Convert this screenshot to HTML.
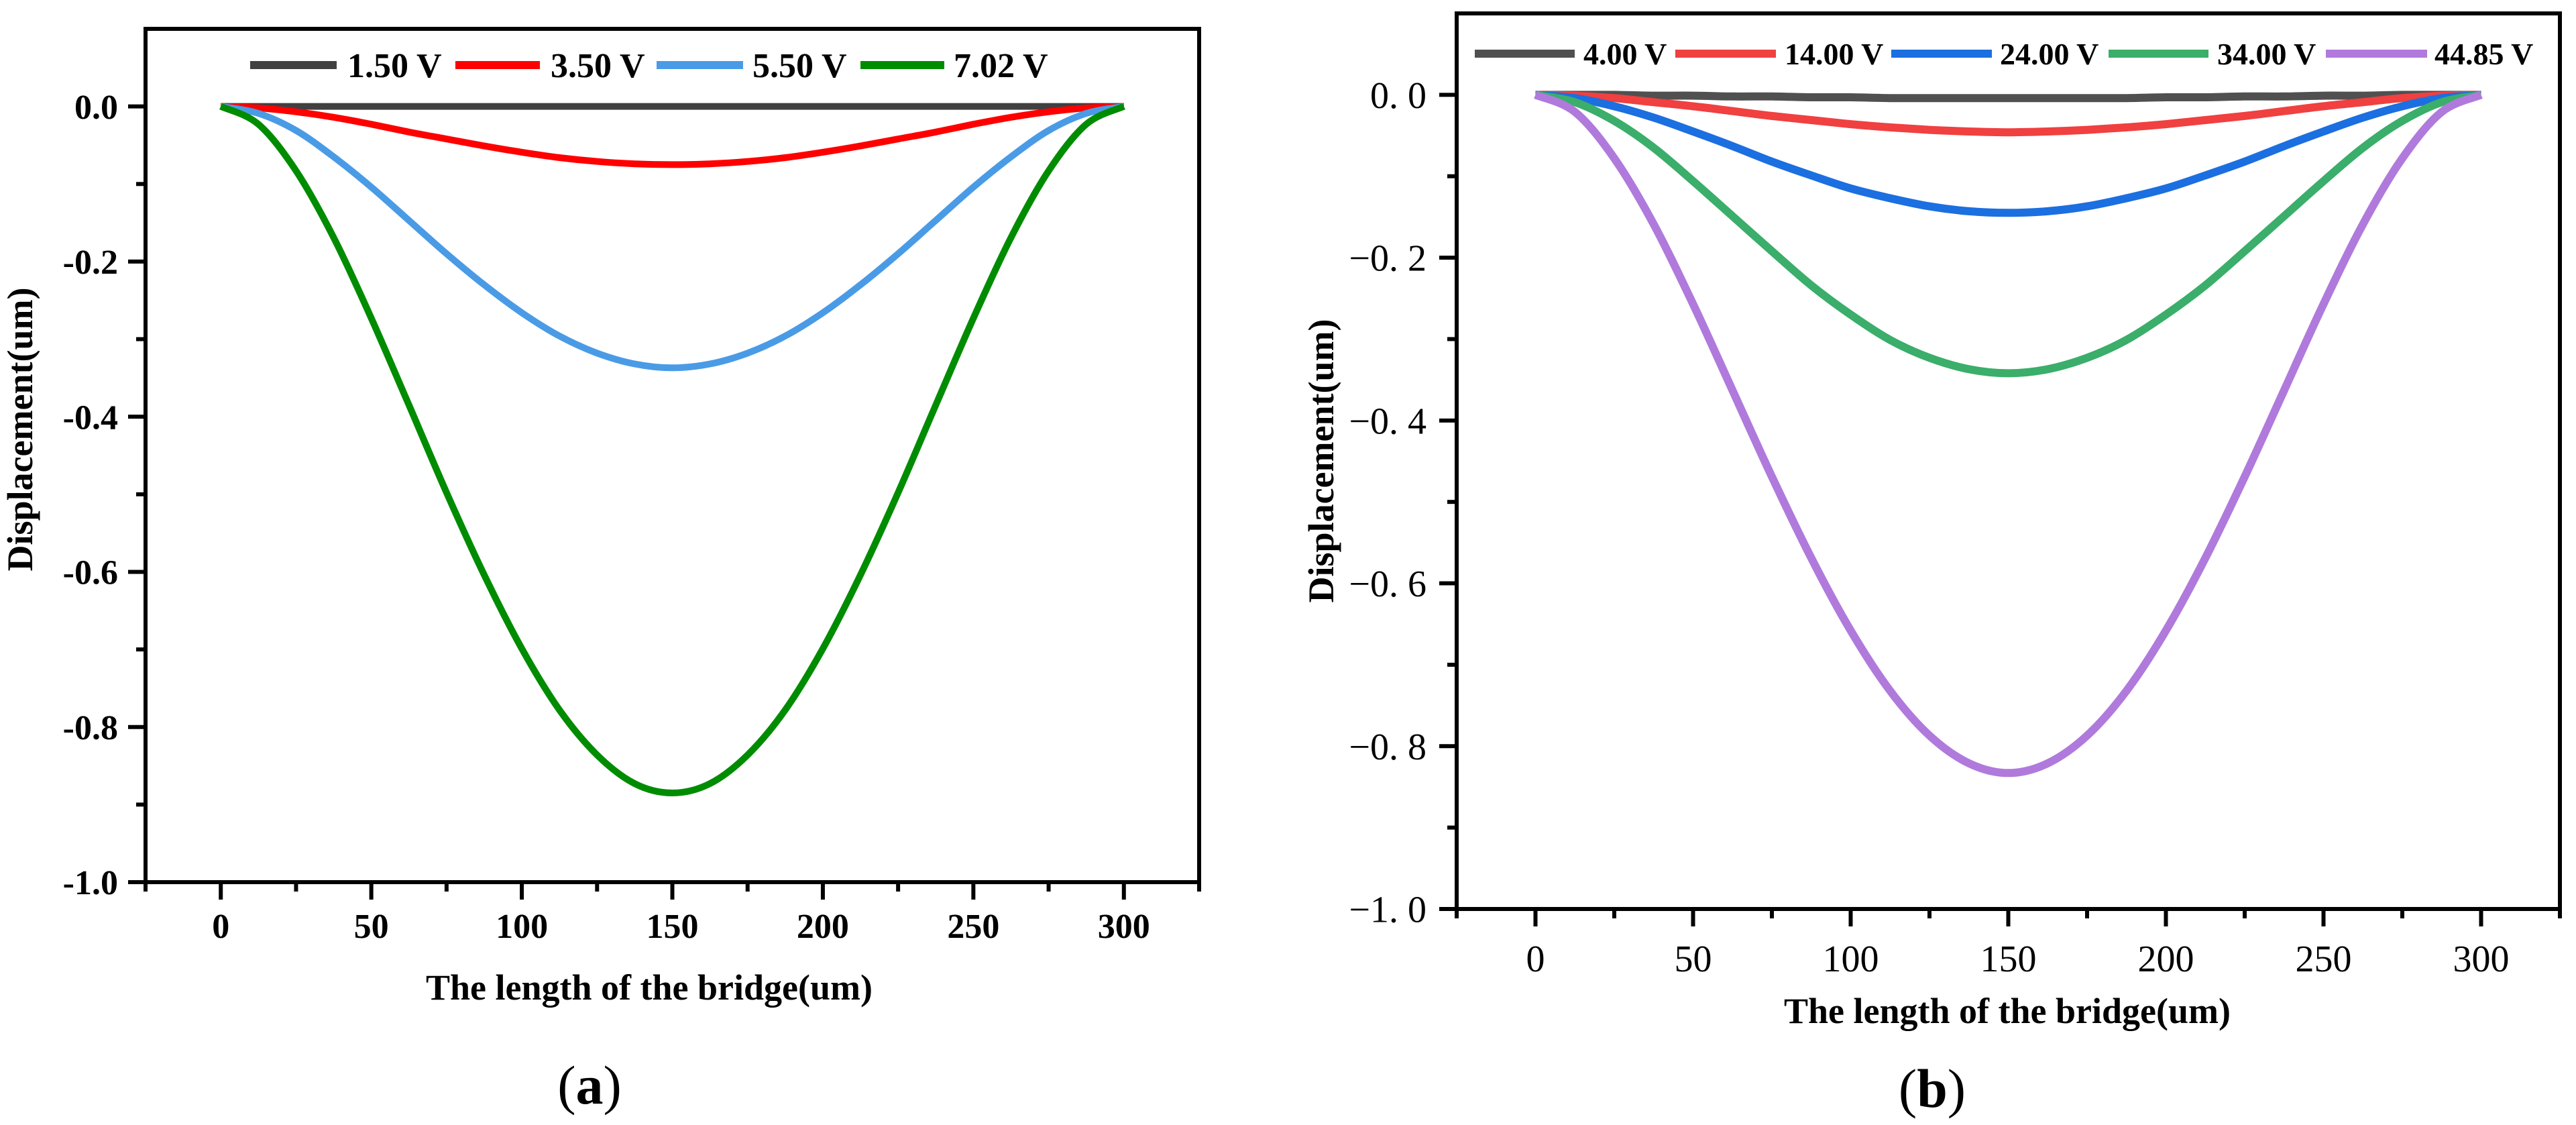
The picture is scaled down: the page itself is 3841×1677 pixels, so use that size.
<!DOCTYPE html>
<html><head><meta charset="utf-8">
<style>
html,body{margin:0;padding:0;background:#fff;}
svg{display:block;}
</style></head>
<body>
<svg id="fig" width="3841" height="1677" viewBox="0 0 3841 1677" xmlns="http://www.w3.org/2000/svg">
<g id="chartA"></g>
<g id="chartB"></g>
</svg>
<script>
// ---- shared data ----
const xPositions = [0,12.5,25,37.5,50,62.5,75,87.5,100,112.5,125,137.5,150,162.5,175,187.5,200,212.5,225,237.5,250,262.5,275,287.5,300];
const xTicks = [0,50,100,150,200,250,300];
const yTicks = [0,-0.2,-0.4,-0.6,-0.8,-1.0];

// chart (a)
const aLabels = ["1.50 V","3.50 V","5.50 V","7.02 V"];
const aColors = ["#404040","#ff0000","#4a9be6","#008c00"];
const a150 = [0,0,0,0,0,0,0,0,0,0,0,0,0,0,0,0,0,0,0,0,0,0,0,0,0];
const a350 = [0,-0.002,-0.007,-0.014,-0.023,-0.033,-0.042,-0.051,-0.059,-0.066,-0.071,-0.074,-0.075,-0.074,-0.071,-0.066,-0.059,-0.051,-0.042,-0.033,-0.023,-0.014,-0.007,-0.002,0];
const a550 = [0,-0.009,-0.031,-0.065,-0.104,-0.147,-0.190,-0.230,-0.266,-0.296,-0.318,-0.332,-0.337,-0.332,-0.318,-0.296,-0.266,-0.230,-0.190,-0.147,-0.104,-0.065,-0.031,-0.009,0];
const a702 = [0,-0.023,-0.083,-0.169,-0.273,-0.385,-0.498,-0.604,-0.699,-0.778,-0.836,-0.873,-0.885,-0.873,-0.836,-0.778,-0.699,-0.604,-0.498,-0.385,-0.273,-0.169,-0.083,-0.023,0];

// chart (b)
const bLabels = ["4.00 V","14.00 V","24.00 V","34.00 V","44.85 V"];
const bColors = ["#505050","#f04040","#1b6fe0","#3aae6a","#b07adc"];
const b400 = [0,0,0,-0.001,-0.001,-0.002,-0.002,-0.003,-0.003,-0.004,-0.004,-0.004,-0.004,-0.004,-0.004,-0.004,-0.003,-0.003,-0.002,-0.002,-0.001,-0.001,0,0,0];
const b1400 = [0,-0.001,-0.004,-0.009,-0.014,-0.020,-0.026,-0.031,-0.036,-0.040,-0.043,-0.045,-0.046,-0.045,-0.043,-0.040,-0.036,-0.031,-0.026,-0.020,-0.014,-0.009,-0.004,-0.001,0];
const b2400 = [0,-0.004,-0.014,-0.028,-0.045,-0.063,-0.082,-0.099,-0.115,-0.127,-0.137,-0.143,-0.145,-0.143,-0.137,-0.127,-0.115,-0.099,-0.082,-0.063,-0.045,-0.028,-0.014,-0.004,0];
const b3400 = [0,-0.009,-0.032,-0.065,-0.106,-0.149,-0.192,-0.234,-0.270,-0.301,-0.323,-0.337,-0.342,-0.337,-0.323,-0.301,-0.270,-0.234,-0.192,-0.149,-0.106,-0.065,-0.032,-0.009,0];
const b4485 = [0,-0.021,-0.078,-0.159,-0.257,-0.363,-0.469,-0.569,-0.658,-0.732,-0.787,-0.821,-0.833,-0.821,-0.787,-0.732,-0.658,-0.569,-0.469,-0.363,-0.257,-0.159,-0.078,-0.021,0];

const NS = "http://www.w3.org/2000/svg";
function mk(parent, tag, attrs, text){
  const e = document.createElementNS(NS, tag);
  for (const k in attrs) e.setAttribute(k, attrs[k]);
  if (text !== undefined) e.textContent = text;
  parent.appendChild(e);
  return e;
}
function smoothPath(pts){
  let d = "M" + pts[0][0].toFixed(1) + "," + pts[0][1].toFixed(1);
  for (let i=0;i<pts.length-1;i++){
    const p0 = pts[Math.max(0,i-1)], p1 = pts[i], p2 = pts[i+1], p3 = pts[Math.min(pts.length-1,i+2)];
    const c1x = p1[0]+(p2[0]-p0[0])/6, c1y = p1[1]+(p2[1]-p0[1])/6;
    const c2x = p2[0]-(p3[0]-p1[0])/6, c2y = p2[1]-(p3[1]-p1[1])/6;
    d += " C"+c1x.toFixed(1)+","+c1y.toFixed(1)+" "+c2x.toFixed(1)+","+c2y.toFixed(1)+" "+p2[0].toFixed(1)+","+p2[1].toFixed(1);
  }
  return d;
}

function drawChart(g, cfg){
  const X = v => cfg.x0 + (v - (-25)) / 350 * (cfg.x1 - cfg.x0);
  const Y = v => cfg.y0 + (0.1 - v) / 1.1 * (cfg.y1 - cfg.y0);
  const tickFont = cfg.tickFont;

  cfg.series.forEach((s, i) => {
    const pts = xPositions.map((xv, j) => [X(xv), Y(s[j])]);
    const p = mk(g, "path", {d: smoothPath(pts), fill:"none", stroke: cfg.colors[i], "stroke-width": cfg.lw, "stroke-linecap":"butt", "stroke-linejoin":"round"});
    
    
  });

  const fr = mk(g, "rect", {x:cfg.x0, y:cfg.y0, width:cfg.x1-cfg.x0, height:cfg.y1-cfg.y0, fill:"none", stroke:"#000", "stroke-width":6});
  
  

  for (let k=0;k<=10;k++){
    const v = -k/10;
    const major = k%2===0;
    const t = mk(g, "line", {x1:cfg.x0, x2:cfg.x0-(major?26:14), y1:Y(v), y2:Y(v), stroke:"#000", "stroke-width":6});
    
    
  }
  yTicks.forEach(v => {
    const lab = cfg.yFmt(v);
    const t = mk(g, "text", {x:cfg.yLabelX, y:Y(v)+cfg.tickFontSize*0.35, "text-anchor":"end", "font-family":tickFont, "font-size":cfg.tickFontSize, "font-weight":cfg.tickWeight}, lab);
    
    
  });
  for (let xv=-25; xv<=325; xv+=25){
    const major = xv%50===0;
    const t = mk(g, "line", {x1:X(xv), x2:X(xv), y1:cfg.y1, y2:cfg.y1+(major?26:14), stroke:"#000", "stroke-width":6});
    
    
  }
  xTicks.forEach(v => {
    const t = mk(g, "text", {x:X(v), y:cfg.xLabelY, "text-anchor":"middle", "font-family":tickFont, "font-size":cfg.tickFontSize, "font-weight":cfg.tickWeight}, String(v));
    
    
  });

  const xt = mk(g, "text", {x:cfg.xTitleX, y:cfg.xTitleY, "text-anchor":"middle", "font-family":"Liberation Serif, serif", "font-size":cfg.titleSize, "font-weight":"bold"}, "The length of the bridge(um)");
  
  
  const yt = mk(g, "text", {x:0, y:0, transform:"translate("+cfg.yTitleX+","+cfg.yTitleY+") rotate(-90)", "text-anchor":"middle", "font-family":"Liberation Serif, serif", "font-size":cfg.titleSize, "font-weight":"bold"}, "Displacement(um)");
  
  

  cfg.labels.forEach((lab, i) => {
    const lg = mk(g, "g", {});
    
    
    const ln = cfg.legend[i];
    mk(lg, "line", {x1:ln[0], x2:ln[1], y1:cfg.legendY, y2:cfg.legendY, stroke:cfg.colors[i], "stroke-width":12});
    mk(lg, "text", {x:ln[2], y:cfg.legendY+cfg.legendFont*0.35, "font-family":"Liberation Serif, serif", "font-size":cfg.legendFont, "font-weight":"bold"}, lab);
  });

  const pl = mk(g, "text", {x:cfg.panelX, y:cfg.panelY, "text-anchor":"middle", "font-family":"Liberation Serif, serif", "font-size":82}, "");
  
  
  mk(pl, "tspan", {}, "(");
  mk(pl, "tspan", {"font-weight":"bold"}, cfg.panel);
  mk(pl, "tspan", {}, ")");
}

drawChart(document.getElementById("chartA"), {
  x0:217, x1:1788, y0:43, y1:1315,
  series:[a150,a350,a550,a702], colors:aColors, labels:aLabels, lw:10,
  tickFont:"Liberation Serif, serif", tickFontSize:52, tickWeight:"bold",
  yFmt: v => (v===0?"0.0":v.toFixed(1)), yLabelX:176, xLabelY:1398,
  xTitleX:968, xTitleY:1490, yTitleX:48, yTitleY:640, titleSize:54,
  legendY:97, legendFont:52,
  legend:[[373,502,518],[679,805,821],[979,1108,1122],[1283,1408,1422]],
  panel:"a", panelX:879, panelY:1645
});
drawChart(document.getElementById("chartB"), {
  x0:2172, x1:3817, y0:20, y1:1355,
  series:[b400,b1400,b2400,b3400,b4485], colors:bColors, labels:bLabels, lw:12,
  tickFont:"Liberation Serif, serif", tickFontSize:56, tickWeight:"normal",
  yFmt: v => (v===0?"0. 0":("\u2212"+Math.abs(v).toFixed(1).replace(".",". "))), yLabelX:2127, xLabelY:1448,
  xTitleX:2993, xTitleY:1525, yTitleX:1988, yTitleY:687, titleSize:54,
  legendY:80, legendFont:46,
  legend:[[2199,2348,2361],[2498,2648,2661],[2820,2970,2982],[3144,3293,3306],[3468,3619,3630]],
  panel:"b", panelX:2881, panelY:1650
});
</script>
</body></html>
